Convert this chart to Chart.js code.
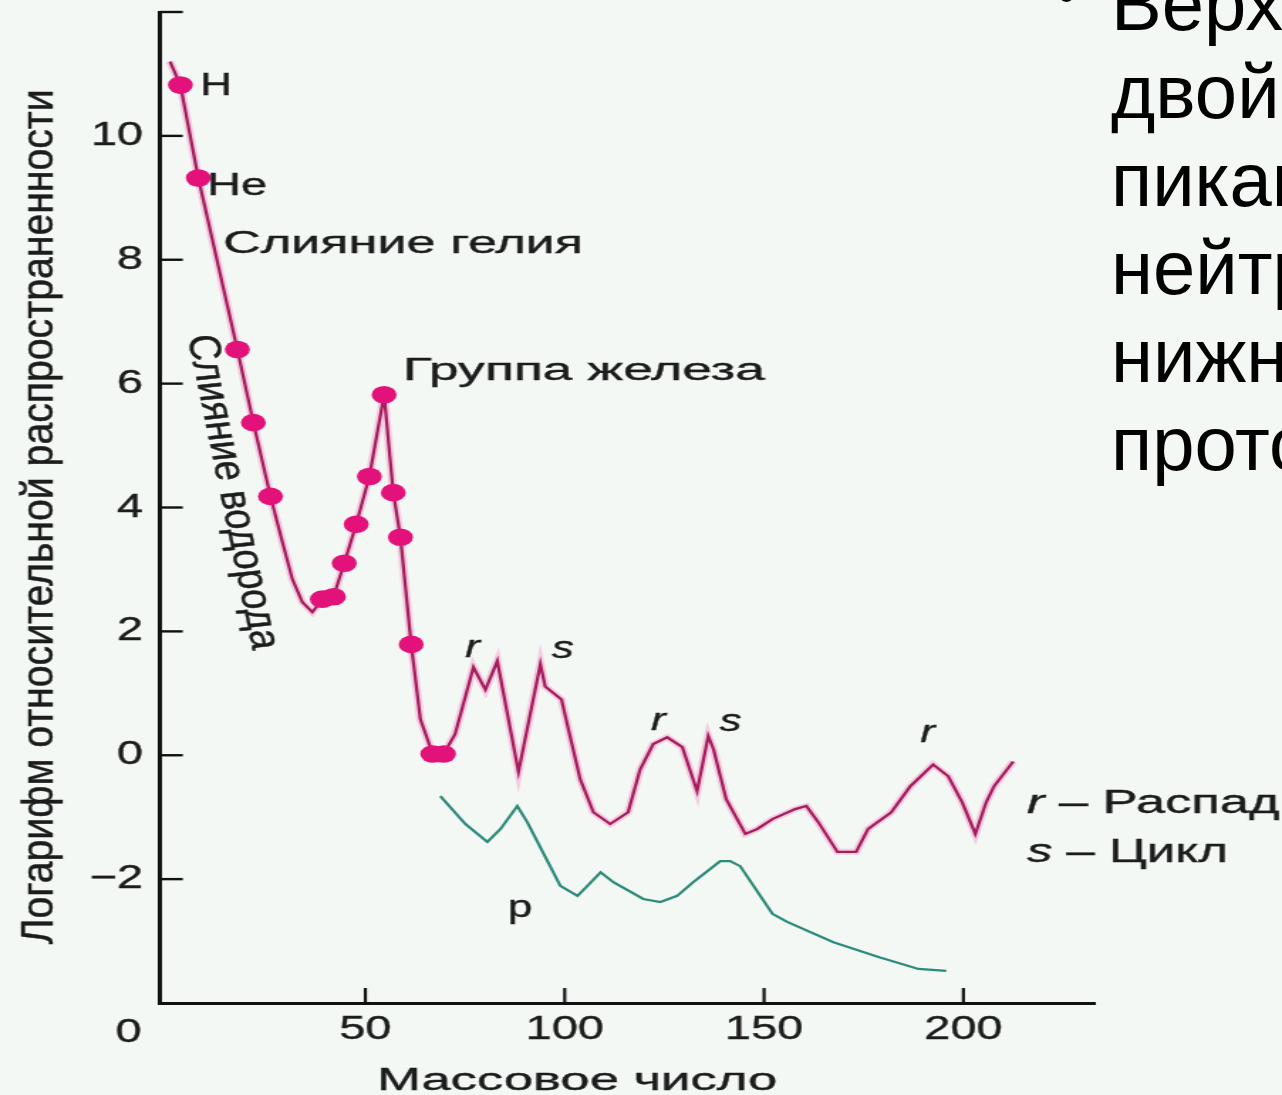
<!DOCTYPE html>
<html lang="ru">
<head>
<meta charset="utf-8">
<title>Распространенность элементов</title>
<script src="https://cdn.jsdelivr.net/npm/chart.js@4.4.1/dist/chart.umd.min.js"></script>
<style>
  html, body { margin: 0; padding: 0; background: #f4f8f5; overflow: hidden; }
  #wrap { position: relative; width: 1282px; height: 1095px; overflow: hidden; }
  #chart { position: absolute; left: 0; top: 0; }
  #bullet { position: absolute; left: 1056px; top: -36px; font: 60px/60px "Liberation Sans", Arial, sans-serif; color: #000; }
  #note { position: absolute; left: 1111px; top: -40px; font: 76px/88px "Liberation Sans", Arial, sans-serif; color: #000; white-space: nowrap; }
</style>
</head>
<body>
<div id="wrap">
  <!-- the scan is stretched sideways, so the canvas is drawn narrow and widened by css -->
  <canvas id="chart" width="902" height="1095" style="width:1282px;height:1095px"></canvas>
  <div id="bullet">•</div>
  <div id="note">Верхняя<br>двойными<br>пиками –<br>нейтронов,<br>нижняя –<br>протонов</div>
</div>
<script>
// upper curve (neutron capture), magenta
const curveMass = [1.0, 3.6, 8.1, 17.9, 21.9, 26.2, 29.2, 31.7, 34.2, 36.7, 39.2, 42.0, 44.7, 47.7, 51.0, 54.7, 57.0, 58.8, 61.5, 63.8,
  66.9, 69.6, 72.5, 77.1, 80.1, 83.1, 88.4, 93.9, 95.1, 99.2, 101.0, 103.9, 107.2, 111.4, 115.9, 118.9, 122.2, 125.7, 129.5, 133.2,
  136.0, 137.3, 140.5, 145.3, 148.3, 152.1, 157.8, 160.6, 163.6, 168.4, 173.1, 176.1, 181.9, 186.7, 192.4, 196.2, 199.7, 203.0, 205.7, 207.7, 212.5];
const curveLog = [11.2, 10.82, 9.32, 6.55, 5.37, 4.18, 3.44, 2.84, 2.47, 2.31, 2.52, 2.56, 3.1, 3.73, 4.5, 5.82, 4.24, 3.52, 1.79, 0.58,
  0.02, 0.02, 0.34, 1.42, 1.06, 1.52, -0.27, 1.47, 1.11, 0.9, 0.4, -0.39, -0.92, -1.11, -0.92, -0.23, 0.18, 0.29, 0.13, -0.58,
  0.31, 0.1, -0.71, -1.27, -1.19, -1.03, -0.87, -0.82, -1.08, -1.56, -1.56, -1.19, -0.92, -0.5, -0.15, -0.34, -0.76, -1.27, -0.76, -0.5, -0.1];

// marked isotopes (dots on the curve)
const isotopeMass = [3.6, 8.1, 17.9, 21.9, 26.2, 39.2, 42.0, 44.7, 47.7, 51.0, 54.7, 57.0, 58.8, 61.5, 66.9, 69.6];
const isotopeLog = [10.82, 9.32, 6.55, 5.37, 4.18, 2.52, 2.56, 3.1, 3.73, 4.5, 5.82, 4.24, 3.52, 1.79, 0.02, 0.02];

// lower curve (p-process), teal
const protonMass = [68.8, 75.1, 80.6, 83.9, 88.1, 90.6, 98.9, 103.2, 105.7, 109.0, 112.2, 119.7, 124.0, 128.2, 132.2, 139.0,
  141.5, 144.0, 152.1, 155.8, 167.4, 178.9, 188.7, 195.7];
const protonLog = [-0.66, -1.11, -1.4, -1.19, -0.82, -1.08, -2.11, -2.27, -2.11, -1.89, -2.05, -2.32, -2.37, -2.27, -2.05, -1.71,
  -1.71, -1.79, -2.56, -2.69, -3.02, -3.26, -3.45, -3.48];

const xTickValues = [50, 100, 150, 200];
const yTickValues = [-2, 0, 2, 4, 6, 8, 10, 12];

const S = 1282 / 902;
const FONT = '"Liberation Sans", Arial, Helvetica, sans-serif';
const INK = '#1c1c1c';

const pts = (xs, ys) => xs.map((x, i) => ({ x: x, y: ys[i] }));

// text labels: anchor in data units, width in screen px
const notes = [
  { runs: [['H']], m: 8.5, v: 10.66, w: 32, size: 32 },
  { runs: [['He']], m: 10.3, v: 9.05, w: 60, size: 31 },
  { runs: [['Слияние гелия']], m: 14.3, v: 8.11, w: 360, size: 31 },
  { runs: [['Группа железа']], m: 59.45, v: 6.06, w: 362, size: 31 },
  { runs: [['r', 1], [' – Распад']], m: 215.9, v: -0.93, w: 253, size: 33 },
  { runs: [['s', 1], [' – Цикл']], m: 215.9, v: -1.72, w: 201, size: 33 }
];
const letters = [
  { t: 'r', it: 1, m: 76.9, v: 1.59 },
  { t: 's', it: 1, m: 99.5, v: 1.57 },
  { t: 'r', it: 1, m: 123.5, v: 0.41 },
  { t: 's', it: 1, m: 141.6, v: 0.39 },
  { t: 'r', it: 1, m: 191.0, v: 0.21 },
  { t: 'p', it: 0, m: 88.8, v: -2.61 }
];

function drawRuns(ctx, runs, size, px, py, len, angle, align, baseline) {
  ctx.save();
  ctx.translate(px, py);
  if (angle) ctx.rotate(angle);
  const fontOf = it => (it ? 'italic ' : '') + size + 'px ' + FONT;
  let w = 0;
  runs.forEach(r => { ctx.font = fontOf(r[1]); w += ctx.measureText(r[0]).width; });
  if (len) ctx.scale(len / w, 1);
  let cx = align === 'center' ? -w / 2 : 0;
  ctx.fillStyle = INK;
  ctx.strokeStyle = INK;
  ctx.lineWidth = 0.4;
  ctx.textAlign = 'left';
  ctx.textBaseline = baseline || 'alphabetic';
  runs.forEach(r => {
    ctx.font = fontOf(r[1]);
    ctx.fillText(r[0], cx, 0);
    ctx.strokeText(r[0], cx, 0);
    cx += ctx.measureText(r[0]).width;
  });
  ctx.restore();
}

const inwardTicks = {
  id: 'inwardTicks',
  beforeDatasetsDraw(chart) {
    const { ctx, chartArea, scales: { x, y } } = chart;
    ctx.save();
    ctx.strokeStyle = '#111';
    ctx.lineWidth = 2.4;
    yTickValues.filter(v => v > -4).forEach(v => {
      const py = y.getPixelForValue(v);
      ctx.beginPath();
      ctx.moveTo(chartArea.left, py);
      ctx.lineTo(chartArea.left + 16, py);
      ctx.stroke();
    });
    ctx.lineWidth = 2.2;
    xTickValues.forEach(v => {
      const px = x.getPixelForValue(v);
      ctx.beginPath();
      ctx.moveTo(px, chartArea.bottom);
      ctx.lineTo(px, chartArea.bottom - 15);
      ctx.stroke();
    });
    ctx.restore();
  }
};

const labels = {
  id: 'labels',
  afterDraw(chart) {
    const { ctx, chartArea, scales: { x, y } } = chart;
    notes.forEach(n => drawRuns(ctx, n.runs, n.size, x.getPixelForValue(n.m), y.getPixelForValue(n.v), n.w / S, 0, 'left'));
    letters.forEach(l => drawRuns(ctx, [[l.t, l.it]], 31, x.getPixelForValue(l.m), y.getPixelForValue(l.v), 0, 0, 'center'));
    // rotated label along the hydrogen branch
    drawRuns(ctx, [['Слияние водорода']], 31, x.getPixelForValue(16.6), y.getPixelForValue(4.25), 318, 81.7 * Math.PI / 180, 'center', 'middle');
    // axis titles
    drawRuns(ctx, [['Логарифм относительной распространенности']], 32, 36.6, y.getPixelForValue(3.85), 855, -Math.PI / 2, 'center');
    drawRuns(ctx, [['Массовое число']], 31, x.getPixelForValue(103.1), 1090, 400 / S, 0, 'center');
    // origin label sits left of the corner
    drawRuns(ctx, [['0']], 33, x.getPixelForValue(0) - 26.5, chartArea.bottom + 39, 0, 0, 'center');
  }
};

const tickText = { color: INK, textStrokeColor: INK, textStrokeWidth: 0.4, font: { family: FONT, size: 33 } };

new Chart(document.getElementById('chart'), {
  type: 'line',
  data: {
    datasets: [
      {
        label: 'Изотопы',
        data: pts(isotopeMass, isotopeLog),
        showLine: false,
        pointRadius: 8.8,
        pointHoverRadius: 8.8,
        pointBackgroundColor: '#e3127a',
        pointBorderWidth: 0
      },
      {
        label: 'Захват нейтронов',
        data: pts(curveMass, curveLog),
        borderColor: '#a61d5c',
        borderWidth: 2.3,
        pointRadius: 0,
        tension: 0
      },
      {
        label: 'halo',
        data: pts(curveMass, curveLog),
        borderColor: 'rgba(240, 80, 170, 0.25)',
        borderWidth: 6,
        pointRadius: 0,
        tension: 0
      },
      {
        label: 'p',
        data: pts(protonMass, protonLog),
        borderColor: '#2c8a79',
        borderWidth: 2.2,
        pointRadius: 0,
        tension: 0
      }
    ]
  },
  options: {
    responsive: false,
    animation: false,
    devicePixelRatio: 1,
    layout: { padding: { left: 0, right: 131.6, top: 12, bottom: 0 } },
    plugins: { legend: { display: false }, tooltip: { enabled: false } },
    scales: {
      x: {
        type: 'linear',
        min: -1.5,
        max: 233,
        afterBuildTicks: s => { s.ticks = xTickValues.map(v => ({ value: v })); },
        afterFit: s => { s.height = 92; s.paddingLeft = 0; s.paddingRight = 0; },
        grid: { display: false, drawTicks: false },
        border: { display: true, color: '#111', width: 3 },
        ticks: Object.assign({ padding: 7, maxRotation: 0, autoSkip: false }, tickText)
      },
      y: {
        min: -4,
        max: 12,
        afterBuildTicks: s => { s.ticks = yTickValues.map(v => ({ value: v })); },
        afterFit: s => { s.width = 112.6; s.paddingTop = 0; s.paddingBottom = 0; },
        grid: { display: false, drawTicks: false },
        border: { display: true, color: '#111', width: 3 },
        ticks: Object.assign({
          padding: 12,
          autoSkip: false,
          callback: v => (v === 12 ? '' : v < 0 ? '\u2212' + (-v) : String(v))
        }, tickText)
      }
    }
  },
  plugins: [inwardTicks, labels]
});
</script>
</body>
</html>
